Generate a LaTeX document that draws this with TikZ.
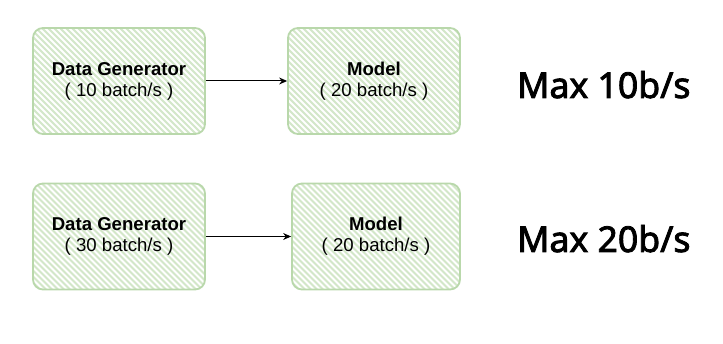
\documentclass[tikz,border=0pt]{standalone}
\usepackage{fontspec}
\setmainfont{Liberation Sans}
\newfontfamily\maxfont{Noto Sans}[FakeBold=2.4]
\usetikzlibrary{arrows.meta}
\definecolor{boxfill}{HTML}{D3E7C9}
\definecolor{boxline}{HTML}{B9D8AB}
\tikzset{
  hatchbox/.style={draw=boxline, line width=1.8pt, rounded corners=10pt, fill=boxfill, inner sep=0pt,
    path picture={\foreach \k in {0,...,56}{\draw[white, line width=1.9pt] ([xshift=\k*6pt-150pt]path picture bounding box.north west) -- ++(150pt,-150pt);}}},
  lbl/.style={align=center, font=\fontsize{18.6}{21}\selectfont},
  maxlbl/.style={anchor=base west, font=\maxfont\fontsize{35.6}{40}\selectfont, inner sep=0pt},
  conn/.style={-{Stealth[length=8pt,width=7pt]}, line width=1pt, black}
}
\begin{document}
\begin{tikzpicture}[x=1pt,y=-1pt]
\useasboundingbox (0,0) rectangle (723,344);
\fill[white] (0,0) rectangle (723,344);
\node[hatchbox, lbl, minimum width=172pt, minimum height=106pt] (g1) at (119,81) {\textbf{Data Generator}\\( 10 batch/s )};
\node[hatchbox, lbl, minimum width=172pt, minimum height=106pt] (m1) at (374,81) {\textbf{Model}\\( 20 batch/s )};
\node[hatchbox, lbl, minimum width=172pt, minimum height=106pt] (g2) at (119,236.5) {\textbf{Data Generator}\\( 30 batch/s )};
\node[hatchbox, lbl, minimum width=168pt, minimum height=106pt] (m2) at (376,236.5) {\textbf{Model}\\( 20 batch/s )};
\draw[conn] (g1) -- (m1);
\draw[conn] (g2) -- (m2);
\node[maxlbl] (t1) at (517,98) {Max 10b/s};
\node[maxlbl] (t2) at (517,252) {Max 20b/s};
\end{tikzpicture}
\end{document}
